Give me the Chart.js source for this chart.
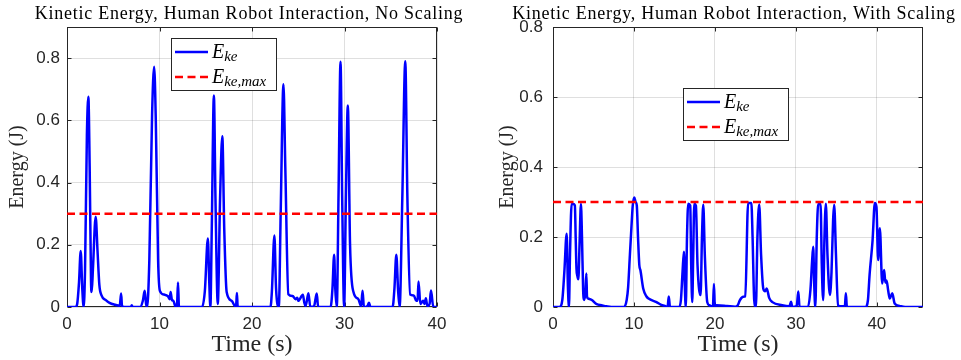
<!DOCTYPE html>
<html><head><meta charset="utf-8">
<script src="https://cdn.jsdelivr.net/npm/chart.js@4.4.1/dist/chart.umd.min.js"></script>
<style>
html,body{margin:0;padding:0;background:#fff;}
#wrap{position:relative;width:961px;height:360px;overflow:hidden;}
canvas{position:absolute;top:0;}
#c1{left:0}
#c2{left:480px}
</style></head><body>
<div id="wrap"><canvas id="c1" width="480" height="360"></canvas><canvas id="c2" width="481" height="360"></canvas></div>
<script>
// ---------- data ----------
const timeLeft = [0,0.9,1.1,1.3,1.48,1.65,1.8,1.95,2.15,2.31,2.45,2.6,2.67,2.8,3.1,3.3,3.5,3.72,4.2,4.6,5.2,5.7,5.85,5.95,6.5,6.9,7.0,7.1,7.9,8.2,8.4,8.55,8.66,8.9,9.2,9.42,9.6,9.85,10.04,10.5,10.9,11.1,11.2,11.35,11.5,11.75,11.9,12.0,12.1,12.3,14.6,14.9,15.23,15.38,15.5,15.65,15.88,16.05,16.3,16.55,16.79,17.0,17.26,17.8,18.2,18.3,18.37,18.45,18.7,22.0,22.15,22.42,22.6,22.9,23.1,23.4,23.6,23.93,24.4,24.7,24.9,25.0,25.5,25.65,25.8,26.1,26.3,26.7,27.0,27.15,28.5,28.7,28.88,29.0,29.17,29.35,29.57,29.75,29.96,30.15,30.36,30.6,30.97,31.5,31.8,31.95,32.1,32.5,32.65,32.8,35.2,35.4,35.6,35.8,35.96,36.25,36.57,36.8,37.1,37.5,37.75,37.9,38.0,38.2,38.5,38.65,38.8,38.95,39.2,39.35,39.6,40];
const energyLeft = [0,0,0.01,0.08,0.18,0.06,0,0.12,0.55,0.676,0.45,0.08,0.048,0.12,0.29,0.18,0.07,0.038,0.022,0.013,0.007,0.004,0.043,0.002,0,0,0.006,0,0,0.02,0.052,0.01,0,0.15,0.62,0.772,0.6,0.15,0.052,0.04,0.035,0.025,0.048,0.022,0.02,0,0.01,0.079,0.002,0,0,0.05,0.22,0.08,0,0.25,0.68,0.35,0.01,0.35,0.549,0.25,0.048,0.02,0.002,0.01,0.045,0.002,0,0,0.05,0.23,0.06,0,0.3,0.716,0.45,0.041,0.035,0.025,0.03,0.02,0.039,0.015,0.003,0.044,0,0.002,0.043,0,0,0.06,0.168,0.06,0,0.35,0.788,0.35,0,0.35,0.648,0.2,0.048,0.025,0.002,0.052,0,0.004,0.014,0,0,0.06,0.168,0.05,0,0.35,0.79,0.35,0.04,0.037,0.02,0.02,0.082,0.01,0.02,0.01,0.028,0.003,0.01,0.053,0,0];

const timeRight = [0,0.8,1.15,1.4,1.69,1.84,1.97,2.1,2.3,2.5,2.7,2.8,2.9,3.0,3.13,3.28,3.45,3.58,3.72,3.83,4.0,4.12,4.2,4.35,4.8,5.4,6.0,6.6,7.2,8.8,9.1,9.28,9.5,9.69,9.85,10.04,10.2,10.35,10.5,10.66,10.8,11.15,11.55,11.8,12.78,13.3,13.9,14.15,14.3,14.45,15.6,15.8,16.0,16.17,16.28,16.4,16.55,16.7,16.95,17.07,17.2,17.32,17.45,17.65,17.85,18.23,18.4,18.56,18.75,19.05,19.3,19.6,19.75,19.88,19.99,20.2,21.5,22.5,22.8,23.1,23.5,23.75,24.1,24.5,24.65,24.85,25.06,25.25,25.47,25.7,25.97,26.2,26.4,26.7,27.1,28.3,29.2,29.4,29.55,30.1,30.3,30.45,31.5,31.8,32.0,32.14,32.27,32.4,32.58,32.76,33.05,33.2,33.37,33.53,33.7,33.9,34.2,34.4,34.6,34.73,34.95,35.2,35.8,36.05,36.17,36.3,38.6,38.9,39.1,39.47,39.75,39.95,40.16,40.37,40.66,40.9,41.05,41.2,41.4,41.6,41.9,42.2,42.8,43.5,45.7];
const energyRight = [0,0,0.02,0.1,0.209,0.06,0,0.15,0.294,0.294,0.29,0.2,0.11,0.09,0.079,0.18,0.294,0.2,0.05,0.02,0.04,0.096,0.03,0.024,0.02,0.008,0.005,0.002,0,0,0.02,0.057,0.15,0.229,0.29,0.313,0.3,0.29,0.2,0.12,0.105,0.052,0.03,0.024,0.014,0.007,0.002,0,0.03,0,0,0.02,0.1,0.158,0.06,0,0.2,0.295,0.29,0.12,0.014,0.15,0.295,0.29,0.12,0.034,0.2,0.292,0.15,0.014,0.005,0.001,0,0.066,0,0.005,0.003,0.001,0.004,0.02,0.029,0.03,0.297,0.297,0.2,0.02,0,0.2,0.293,0.15,0.053,0.045,0.053,0.026,0.014,0.005,0.002,0.015,0,0.003,0.044,0,0,0.05,0.13,0.172,0.06,0,0.2,0.294,0.294,0.12,0.02,0.2,0.295,0.15,0.034,0.1,0.25,0.292,0.15,0.004,0.002,0.002,0.039,0,0,0.02,0.091,0.19,0.297,0.286,0.134,0.225,0.067,0.106,0.07,0.076,0.047,0.024,0.039,0.01,0.003,0,0];

const energyMax = 0.3;
const xTicks = [0,10,20,30,40];
const yTicks = [0,0.2,0.4,0.6,0.8];
const xMaxLeft = 40, yMaxLeft = 0.9;
const xMaxRight = 45.7, yMaxRight = 0.8;
const titleLeft = 'Kinetic Energy, Human Robot Interaction, No Scaling';
const titleRight = 'Kinetic Energy, Human Robot Interaction, With Scaling';
const xLabel = 'Time (s)';
const yLabel = 'Energy (J)';
const legendSubs = ['ke', 'ke,max'];

// ---------- plugins ----------
const boxPlugin = {
  id: 'boxTicks',
  beforeDatasetsDraw(chart) {
    const {ctx, chartArea: a, scales: {x, y}} = chart;
    ctx.save();
    ctx.strokeStyle = '#262626';
    ctx.lineWidth = 1;
    const L = Math.round(a.left) + 0.5, R = Math.round(a.right) - 0.5;
    const T = Math.round(a.top) + 0.5, B = Math.round(a.bottom) - 0.5;
    ctx.strokeRect(L, T, R - L, B - T);
    const tl = 4;
    ctx.beginPath();
    x.ticks.forEach(t => {
      const px = Math.round(x.getPixelForValue(t.value)) + 0.5;
      ctx.moveTo(px, B); ctx.lineTo(px, B - tl);
      ctx.moveTo(px, T); ctx.lineTo(px, T + tl);
    });
    y.ticks.forEach(t => {
      const py = Math.round(y.getPixelForValue(t.value)) + 0.5;
      ctx.moveTo(L, py); ctx.lineTo(L + tl, py);
      ctx.moveTo(R, py); ctx.lineTo(R - tl, py);
    });
    ctx.stroke();
    ctx.restore();
  }
};

const titlePlugin = {
  id: 'mlTitle',
  afterDraw(chart, args, opts) {
    const {ctx} = chart;
    ctx.save();
    ctx.font = '18px "Liberation Serif"';
    if ('letterSpacing' in ctx) ctx.letterSpacing = opts.spacing + 'px';
    ctx.fillStyle = '#000';
    ctx.textAlign = 'center';
    ctx.textBaseline = 'alphabetic';
    ctx.fillText(opts.text, opts.cx, opts.baseline);
    ctx.restore();
  }
};

const legendPlugin = {
  id: 'mlLegend',
  afterDatasetsDraw(chart, args, opts) {
    const {ctx} = chart;
    const x0 = opts.x, y0 = opts.y, w = 106, h = 53;
    ctx.save();
    ctx.fillStyle = '#fff';
    ctx.fillRect(x0, y0, w, h);
    ctx.strokeStyle = '#262626';
    ctx.lineWidth = 1;
    ctx.strokeRect(x0 + 0.5, y0 + 0.5, w - 1, h - 1);
    const ds = chart.data.datasets;
    const rows = [ds[1], ds[0]];
    rows.forEach((d, i) => {
      const ly = y0 + 14 + i * 25;
      ctx.strokeStyle = d.borderColor;
      ctx.lineWidth = 2.5;
      ctx.setLineDash(d.borderDash || []);
      ctx.beginPath();
      ctx.moveTo(x0 + 4, ly); ctx.lineTo(x0 + 37, ly);
      ctx.stroke();
      ctx.setLineDash([]);
      ctx.fillStyle = '#000';
      ctx.textBaseline = 'alphabetic';
      ctx.textAlign = 'left';
      ctx.font = 'italic 20px "Liberation Serif"';
      const ex = x0 + 41, ey = y0 + 20 + i * 25;
      ctx.fillText('E', ex, ey);
      const ew = ctx.measureText('E').width;
      ctx.font = 'italic 15px "Liberation Serif"';
      ctx.fillText(legendSubs[i], ex + ew, ey + 3);
    });
    ctx.restore();
  }
};

function makeChart(id, times, energies, xMax, yMax, title, titleCx, rightPad, yWidth, yPad, yTitlePad, legendPos) {
  const pts = times.map((t, i) => ({x: t, y: energies[i]}));
  const maxLine = [{x: 0, y: energyMax}, {x: xMax, y: energyMax}];
  return new Chart(document.getElementById(id), {
    type: 'line',
    data: {
      datasets: [
        {data: maxLine, borderColor: '#ff0000', borderWidth: 2.5, borderDash: [8, 4.5], pointRadius: 0, fill: false},
        {data: pts, borderColor: '#0000ff', borderWidth: 2.5, pointRadius: 0, fill: false, cubicInterpolationMode: 'monotone'}
      ]
    },
    options: {
      responsive: false,
      animation: false,
      devicePixelRatio: 1,
      layout: {padding: {left: 0, right: rightPad, top: 27, bottom: 0}},
      plugins: {
        legend: {display: false},
        tooltip: {enabled: false},
        title: {display: false},
        mlTitle: {text: title, cx: titleCx, baseline: 19, spacing: 0.75},
        mlLegend: legendPos
      },
      scales: {
        x: {
          type: 'linear', min: 0, max: xMax,
          afterBuildTicks: s => { s.ticks = xTicks.map(v => ({value: v})); },
          afterFit: s => { s.height = 53; },
          grid: {color: 'rgba(38,38,38,0.15)', lineWidth: 1, drawTicks: false},
          border: {display: false},
          ticks: {color: '#262626', padding: 7, maxRotation: 0, font: {family: '"Liberation Sans"', size: 17}},
          title: {display: true, text: xLabel, color: '#262626', padding: {top: 0, bottom: 1},
            font: {family: '"Liberation Serif"', size: 24}}
        },
        y: {
          type: 'linear', min: 0, max: yMax,
          afterBuildTicks: s => { s.ticks = yTicks.map(v => ({value: v})); },
          afterFit: s => { s.width = yWidth; },
          grid: {color: 'rgba(38,38,38,0.15)', lineWidth: 1, drawTicks: false},
          border: {display: false},
          ticks: {color: '#262626', padding: yPad, font: {family: '"Liberation Sans"', size: 17},
            callback: v => String(v)},
          title: {display: true, text: yLabel, color: '#262626', padding: {top: yTitlePad, bottom: 0},
            font: {family: '"Liberation Serif"', size: 20}}
        }
      }
    },
    plugins: [boxPlugin, legendPlugin, titlePlugin]
  });
}

makeChart('c1', timeLeft, energyLeft, xMaxLeft, yMaxLeft, titleLeft, 249, 43, 67, 7, 6, {x: 171, y: 38});
makeChart('c2', timeRight, energyRight, xMaxRight, yMaxRight, titleRight, 254, 38, 73, 10, 16, {x: 203, y: 88});
</script>
</body></html>
